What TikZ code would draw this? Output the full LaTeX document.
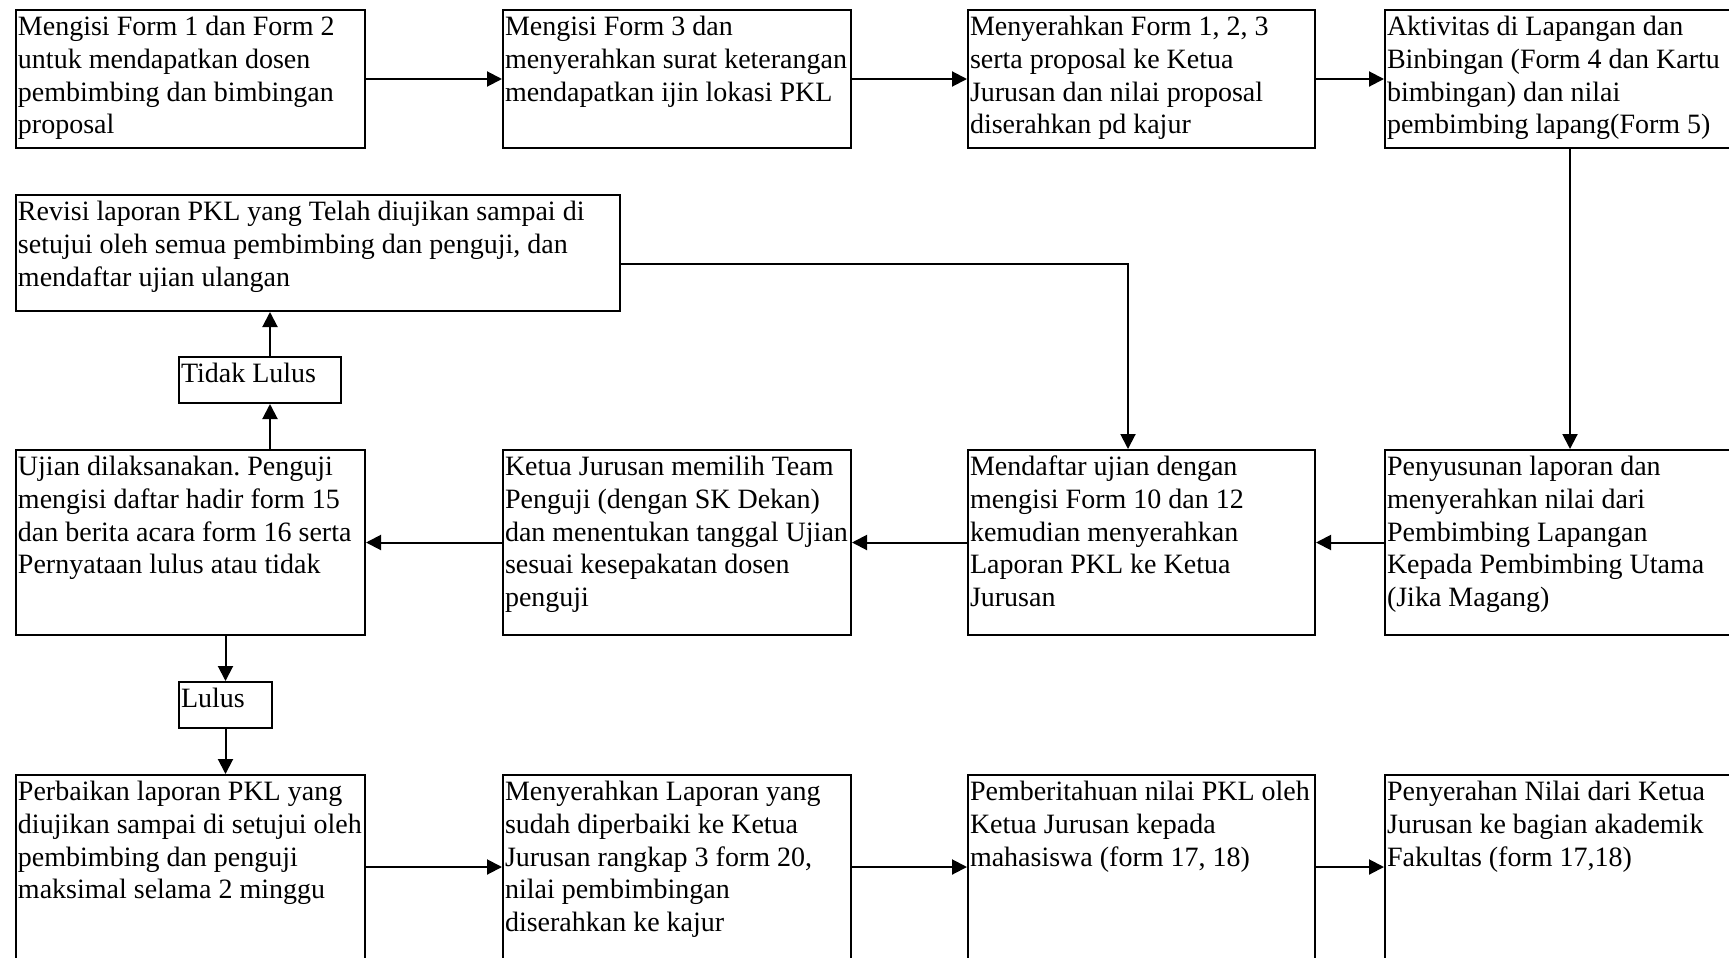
\documentclass[tikz,border=0pt]{standalone}
\usepackage{fontspec}
\setmainfont{Liberation Serif}
\usetikzlibrary{arrows.meta}
\frenchspacing
\tikzset{
  bx/.style={draw, line width=1pt, anchor=north west, inner xsep=1pt, inner ysep=1.25pt,
    font=\fontsize{14pt}{16.4pt}\selectfont},
  arr/.style={line width=1pt, -{Triangle[length=7.5pt,width=7.5pt]}}
}
\newcommand\boxnode[6]{\node[bx] (#1) at (#2,#3) {\parbox[t][\dimexpr#5pt*1/2-2.5pt\relax][t]{\dimexpr#4pt*1/2-2pt\relax}{\raggedright\frenchspacing\strut #6}};}
\begin{document}
\begin{tikzpicture}[x=0.5pt,y=-0.5pt]
\useasboundingbox (0,0) rectangle (1729,958);
% row 1
\boxnode{a1}{15}{9}{349}{138}{Mengisi Form 1 dan Form 2\\untuk mendapatkan dosen\\pembimbing dan bimbingan\\proposal}
\boxnode{a2}{502}{9}{348}{138}{Mengisi Form 3 dan\\menyerahkan surat keterangan\\mendapatkan ijin lokasi PKL}
\boxnode{a3}{967}{9}{347}{138}{Menyerahkan Form 1, 2, 3\\serta proposal ke Ketua\\Jurusan dan nilai proposal\\diserahkan pd kajur}
\boxnode{a4}{1384}{9}{370}{138}{Aktivitas di Lapangan dan\\Binbingan (Form 4 dan Kartu\\bimbingan) dan nilai\\pembimbing lapang(Form 5)}
% revisi
\boxnode{rev}{15}{194}{604}{116}{Revisi laporan PKL yang Telah diujikan sampai di\\setujui oleh semua pembimbing dan penguji, dan\\mendaftar ujian ulangan}
\boxnode{tl}{178}{356}{162}{46}{Tidak Lulus}
% row 2
\boxnode{b1}{15}{449}{349}{185}{Ujian dilaksanakan. Penguji\\mengisi daftar hadir form 15\\dan berita acara form 16 serta\\Pernyataan lulus atau tidak}
\boxnode{b2}{502}{449}{348}{185}{Ketua Jurusan memilih Team\\Penguji (dengan SK Dekan)\\dan menentukan tanggal Ujian\\sesuai kesepakatan dosen\\penguji}
\boxnode{b3}{967}{449}{347}{185}{Mendaftar ujian dengan\\mengisi Form 10 dan 12\\kemudian menyerahkan\\Laporan PKL ke Ketua\\Jurusan}
\boxnode{b4}{1384}{449}{370}{185}{Penyusunan laporan dan\\menyerahkan nilai dari\\Pembimbing Lapangan\\Kepada Pembimbing Utama\\(Jika Magang)}
\boxnode{lu}{178}{681}{93}{46}{Lulus}
% row 3
\boxnode{c1}{15}{774}{349}{230}{Perbaikan laporan PKL yang\\diujikan sampai di setujui oleh\\pembimbing dan penguji\\maksimal selama 2 minggu}
\boxnode{c2}{502}{774}{348}{230}{Menyerahkan Laporan yang\\sudah diperbaiki ke Ketua\\Jurusan rangkap 3 form 20,\\nilai pembimbingan\\diserahkan ke kajur}
\boxnode{c3}{967}{774}{347}{230}{Pemberitahuan nilai PKL oleh\\Ketua Jurusan kepada\\mahasiswa (form 17, 18)}
\boxnode{c4}{1384}{774}{370}{230}{Penyerahan Nilai dari Ketua\\Jurusan ke bagian akademik\\Fakultas (form 17,18)}
% helper coordinates
\coordinate (xr) at (1128,264);
\coordinate (xt) at (270,0);
\coordinate (yc) at (0,867);
% connectors
\draw[arr] (a1.east) -- (a2.west);
\draw[arr] (a2.east) -- (a3.west);
\draw[arr] (a3.east) -- (a4.west);
\draw[arr] (a4.south) -- (b4.north);
\draw[arr] (b4.west) -- (b3.east);
\draw[arr] (b3.west) -- (b2.east);
\draw[arr] (b2.west) -- (b1.east);
\draw[arr] (rev.east |- xr) -| (b3.north -| xr);
\draw[arr] (b1.north -| xt) -- (tl.south -| xt);
\draw[arr] (tl.north -| xt) -- (rev.south -| xt);
\draw[arr] (b1.south -| lu) -- (lu.north);
\draw[arr] (lu.south) -- (c1.north -| lu);
\draw[arr] (c1.east |- yc) -- (c2.west |- yc);
\draw[arr] (c2.east |- yc) -- (c3.west |- yc);
\draw[arr] (c3.east |- yc) -- (c4.west |- yc);
\end{tikzpicture}
\end{document}
